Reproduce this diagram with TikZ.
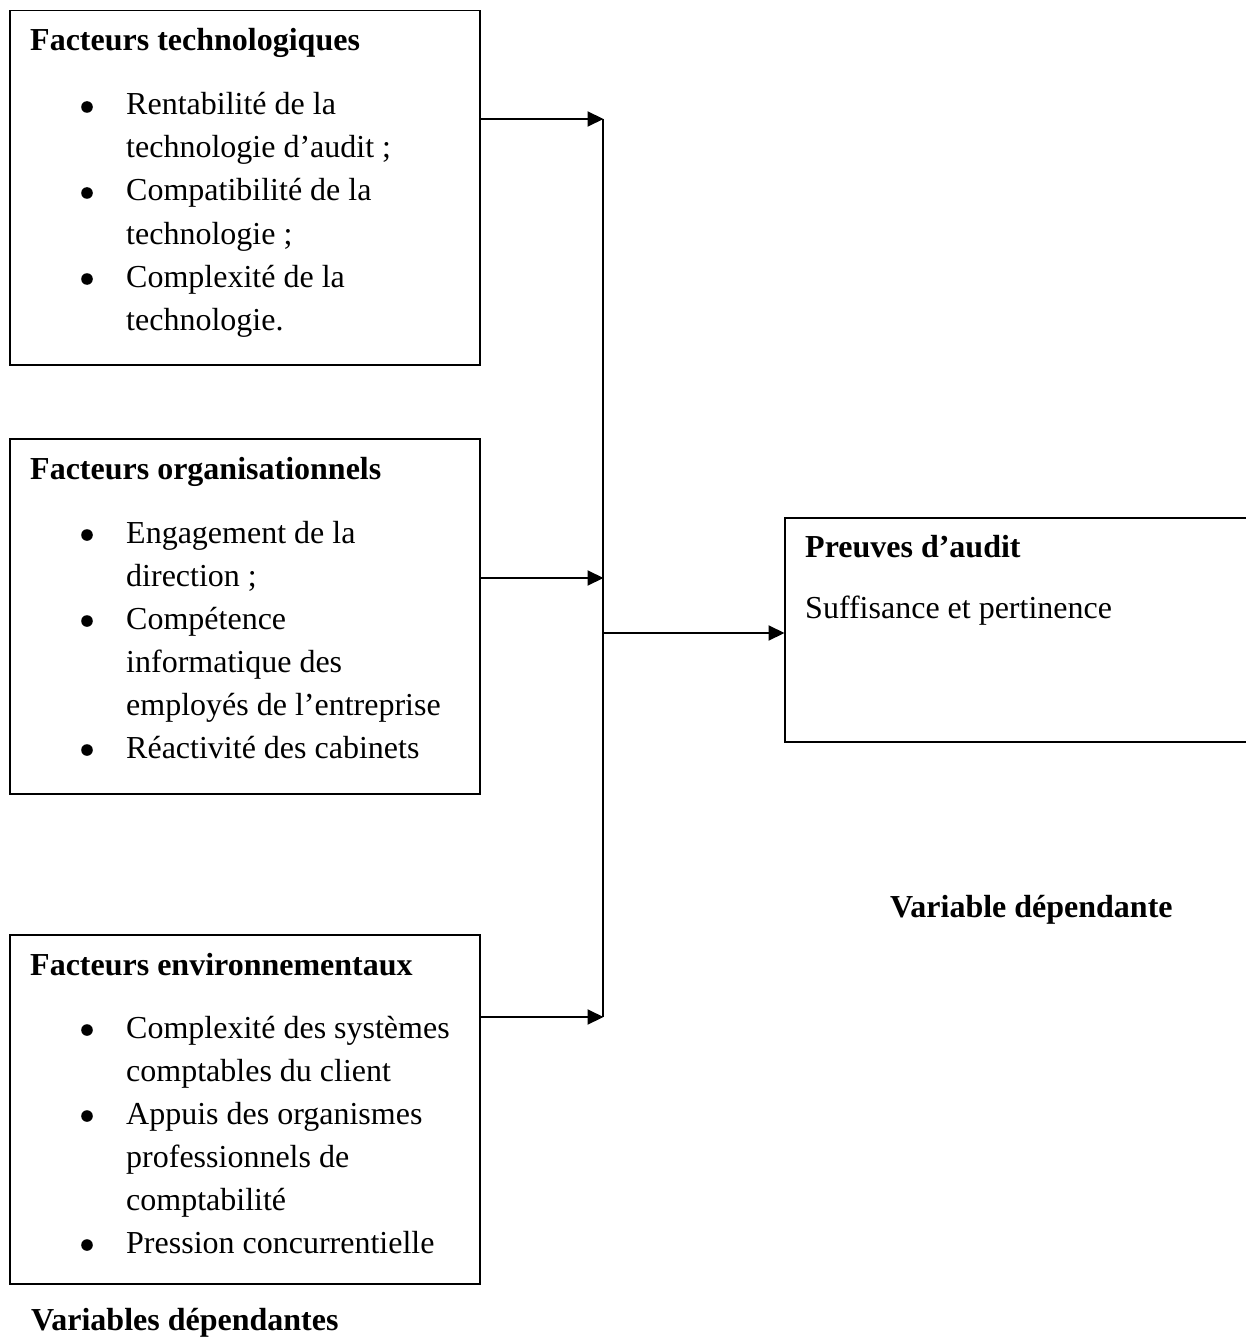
\documentclass[tikz,border=0pt]{standalone}
\usepackage{fontspec}
\setmainfont{Liberation Serif}
\usepackage{tikz}
\usetikzlibrary{arrows.meta}

\tikzset{
  box/.style={draw, line width=1.5pt, inner sep=0pt, anchor=north west},
  txt/.style={anchor=base west, inner sep=0pt, font=\fontsize{32}{43}\selectfont},
  head/.style={txt, font=\fontsize{32}{43}\selectfont\bfseries},
  link/.style={line width=2pt},
  arr/.style={link, -{Triangle[length=16pt, width=15pt]}, shorten >=-0.5pt}
}

\begin{document}
\begin{tikzpicture}[x=1pt, y=-1pt]
		\useasboundingbox (0,0) rectangle (1246,1340);

		% Boxes
		\node[box, minimum width=470pt, minimum height=354pt] (tech) at (9,10) {};
		\node[box, minimum width=470pt, minimum height=355pt] (orga) at (9,438) {};
		\node[box, minimum width=470pt, minimum height=349pt] (env) at (9,934) {};
		\begin{scope}
			\clip (0,0) rectangle (1246,1340);
			\node[box, minimum width=476pt, minimum height=224pt] (preuve) at (784,517) {};
		\end{scope}

		% Facteurs technologiques
		\node[head] (techtitle) at (30,51) {Facteurs technologiques};
		\node[txt] (tech1) at (126,115) {Rentabilité de la};
		\node[txt] (tech2) at (126,158) {technologie d’audit ;};
		\node[txt] (tech3) at (126,201) {Compatibilité de la};
		\node[txt] (tech4) at (126,244) {technologie ;};
		\node[txt] (tech5) at (126,287) {Complexité de la};
		\node[txt] (tech6) at (126,330) {technologie.};
		\foreach \y in {115, 201, 287} {
				\fill (87,\y-8) circle (5.8pt);
			}

		% Facteurs organisationnels
		\node[head] (orgatitle) at (30,479) {Facteurs organisationnels};
		\node[txt] (orga1) at (126,543) {Engagement de la};
		\node[txt] (orga2) at (126,586) {direction ;};
		\node[txt] (orga3) at (126,629) {Compétence};
		\node[txt] (orga4) at (126,672) {informatique des};
		\node[txt] (orga5) at (126,715) {employés de l’entreprise};
		\node[txt] (orga6) at (126,758) {Réactivité des cabinets};
		\foreach \y in {543, 629, 758} {
				\fill (87,\y-8) circle (5.8pt);
			}

		% Facteurs environnementaux
		\node[head] (envtitle) at (30,975) {Facteurs environnementaux};
		\node[txt] (env1) at (126,1038) {Complexité des systèmes};
		\node[txt] (env2) at (126,1081) {comptables du client};
		\node[txt] (env3) at (126,1124) {Appuis des organismes};
		\node[txt] (env4) at (126,1167) {professionnels de};
		\node[txt] (env5) at (126,1210) {comptabilité};
		\node[txt] (env6) at (126,1253) {Pression concurrentielle};
		\foreach \y in {1038, 1124, 1253} {
				\fill (87,\y-8) circle (5.8pt);
			}

		% Preuves d'audit
		\node[head] (preuvetitle) at (805,557) {Preuves d’audit};
		\node[txt] (preuve1) at (805,618) {Suffisance et pertinence};

		% Labels
		\node[head] (vardep) at (31,1330) {Variables dépendantes};
		\node[head] (varind) at (890,917) {Variable dépendante};

		% Connectors
		\coordinate (j1) at (603,119);
		\coordinate (j2) at (603,578);
		\coordinate (j3) at (603,1017);
		\coordinate (hub) at (603,633);
		\draw[link] (j1) -- (j3);
		\draw[arr] (tech.east |- j1) -- (j1);
		\draw[arr] (orga.east |- j2) -- (j2);
		\draw[arr] (env.east |- j3) -- (j3);
		\draw[arr] (hub) -- (hub -| preuve.west);
	\end{tikzpicture}
\end{document}
